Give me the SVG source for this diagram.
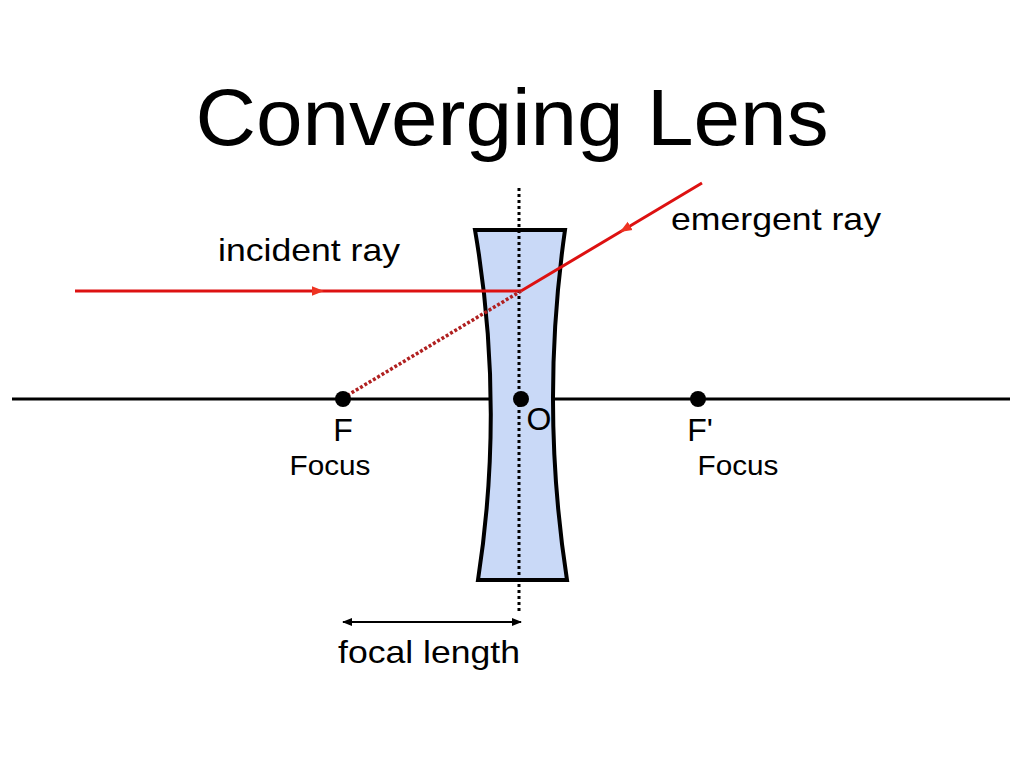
<svg xmlns="http://www.w3.org/2000/svg" width="1024" height="768" viewBox="0 0 1024 768">
<style>
text{font-family:"Liberation Sans",Arial,sans-serif;fill:#000}
.ray{stroke:#dd1111;stroke-width:3;fill:none}
</style>
<defs>
<marker id="ah" viewBox="0 0 10 10" refX="5" refY="5" markerWidth="4" markerHeight="4" orient="auto" markerUnits="strokeWidth"><path d="M0,1 L10,5 L0,9 z" fill="#ee3322"/></marker>
<marker id="bh" viewBox="0 0 10 10" refX="9" refY="5" markerWidth="5" markerHeight="5" orient="auto-start-reverse"><path d="M0,1 L10,5 L0,9 z" fill="#000"/></marker>
</defs>
<rect width="1024" height="768" fill="#fff"/>
<text x="512" y="145" font-size="80" text-anchor="middle" textLength="633" lengthAdjust="spacingAndGlyphs">Converging Lens</text>
<g id="axis"><line x1="12" y1="399" x2="1010" y2="399" stroke="#000" stroke-width="3"/></g>
<g id="lens"><path d="M475,230 L565,230 Q540,405 567,580 L478,580 Q505,405 475,230 Z" fill="#c9d9f7" stroke="#000" stroke-width="4"/></g>
<g id="connectors">
<line x1="519" y1="188" x2="519" y2="612" stroke="#000" stroke-width="3" stroke-dasharray="3,3"/>
<path class="ray" d="M75,291 L318,291 L521,291" marker-mid="url(#ah)"/>
<path class="ray" d="M702,183 L625,229 L521,291" marker-mid="url(#ah)"/>
<line x1="343" y1="398" x2="521" y2="291" stroke="#b02020" stroke-width="3.5" stroke-dasharray="3,2"/>
<line x1="343" y1="622" x2="521" y2="622" stroke="#000" stroke-width="2" marker-start="url(#bh)" marker-end="url(#bh)"/>
</g>
<g id="F"><circle cx="343" cy="399" r="8" fill="#000"/><text x="343" y="441" font-size="32" text-anchor="middle">F</text><text x="330" y="475" font-size="27" text-anchor="middle" textLength="81" lengthAdjust="spacingAndGlyphs">Focus</text></g>
<g id="O"><circle cx="521" cy="399" r="8" fill="#000"/><text x="539" y="430" font-size="32" text-anchor="middle">O</text></g>
<g id="F2"><circle cx="698" cy="399" r="8" fill="#000"/><text x="700" y="441" font-size="32" text-anchor="middle">F'</text><text x="738" y="475" font-size="27" text-anchor="middle" textLength="81" lengthAdjust="spacingAndGlyphs">Focus</text></g>
<text x="309" y="261" font-size="32" text-anchor="middle" textLength="182" lengthAdjust="spacingAndGlyphs">incident ray</text>
<text x="776" y="230" font-size="32" text-anchor="middle" textLength="210" lengthAdjust="spacingAndGlyphs">emergent ray</text>
<text x="429" y="663" font-size="32" text-anchor="middle" textLength="182" lengthAdjust="spacingAndGlyphs">focal length</text>
</svg>
